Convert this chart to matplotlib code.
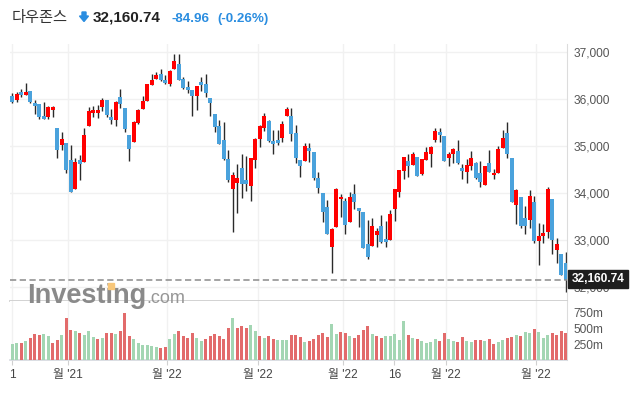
import matplotlib
matplotlib.use("Agg")
import matplotlib.pyplot as plt
from matplotlib.patches import Rectangle, Polygon
import numpy as np

plt.rcParams['font.family'] = ['Liberation Sans', 'Noto Sans CJK KR', 'DejaVu Sans']
plt.rcParams['lines.scale_dashes'] = False

# daily OHLC, 11 Nov 2021 .. 10 May 2022
opens = [36071, 35986, 36156, 36092, 36177, 35922, 35894, 35645, 35624, 35780,
         35390, 35028, 35064, 34709, 34092, 34709, 34660, 35440, 35709, 35709,
         35837, 35986, 35624, 35567, 36050, 35816, 35241, 35099, 35497, 35794,
         35972, 36312, 36440, 36539, 36411, 36333, 36652, 36752, 36433, 36262,
         36199, 36078, 36369, 36326, 36028, 35688, 35440, 35135, 34731, 34099,
         34213, 34539, 34284, 34163, 34716, 35163, 35397, 35539, 35113, 35135,
         35184, 35638, 35645, 35277, 34702, 34695, 34965, 34879, 34326, 34014,
         33709, 32851, 33291, 33872, 33844, 33397, 33979, 33688, 33610, 32915,
         32887, 33121, 33305, 33029, 33014, 33674, 34021, 34482, 34688, 34603,
         34773, 34411, 34709, 34844, 35142, 35298, 35220, 34759, 34830, 34901,
         34539, 34461, 34589, 34645, 34440, 34185, 34645, 34383, 34426, 34972,
         35284, 34752, 33759, 33922, 33475, 33440, 33816, 32993, 33099, 33185,
         33880, 32801, 32709, 32511]
highs = [36128, 36163, 36213, 36340, 36177, 35986, 35894, 35936, 35858, 35858,
         35390, 35298, 35064, 35028, 34759, 34816, 35383, 35844, 35858, 35872,
         36021, 35986, 35787, 35965, 36220, 35816, 35241, 35539, 35787, 36078,
         36326, 36546, 36589, 36645, 36518, 36624, 36957, 36957, 36482, 36397,
         36199, 36284, 36468, 36532, 36028, 35688, 35553, 35511, 34915, 34461,
         34617, 34837, 34794, 34744, 35170, 35454, 35702, 35553, 35340, 35340,
         35546, 35837, 35809, 35454, 34702, 35064, 35064, 34879, 34447, 34014,
         33858, 33270, 34106, 33986, 33894, 34021, 34192, 33688, 33610, 33433,
         33468, 33270, 33539, 33411, 33645, 34092, 34497, 34773, 34837, 34887,
         34773, 34738, 34979, 35014, 35383, 35383, 35220, 34887, 34957, 35135,
         34624, 34723, 34901, 34660, 34688, 34589, 34915, 34518, 35007, 35348,
         35511, 34752, 34092, 33922, 33724, 34064, 33936, 33362, 33355, 34135,
         33880, 33057, 32709, 32759]
lows = [35929, 35950, 36057, 36092, 35929, 35681, 35574, 35589, 35574, 35617,
        34759, 34915, 34440, 34036, 34092, 34291, 34660, 35440, 35631, 35596,
        35759, 35631, 35475, 35426, 35809, 35312, 34695, 35099, 35468, 35794,
        35972, 36312, 36426, 36397, 36333, 36277, 36652, 36418, 36220, 36128,
        35653, 35780, 36184, 36057, 35653, 35298, 35050, 34709, 34248, 33170,
        33575, 33894, 34050, 33837, 34532, 34993, 35326, 35099, 34830, 35021,
        35099, 35638, 35121, 34645, 34340, 34695, 34660, 34284, 33999, 33383,
        33128, 32298, 33291, 33489, 33135, 33397, 33667, 33277, 32830, 32596,
        32887, 32851, 32936, 32851, 33014, 33419, 33915, 34298, 34355, 34603,
        34376, 34390, 34709, 34567, 35092, 35092, 34695, 34574, 34638, 34624,
        34298, 34213, 34497, 34298, 34128, 34170, 34461, 34298, 34426, 34972,
        34745, 33809, 33341, 33255, 33128, 33270, 32936, 32468, 32936, 33043,
        32702, 32511, 32263, 31901]
closes = [35950, 36106, 36092, 36156, 35950, 35858, 35624, 35589, 35830, 35837,
          34922, 35156, 34497, 34036, 34660, 34617, 35241, 35752, 35773, 35773,
          35986, 35667, 35560, 35943, 35901, 35376, 34943, 35518, 35773, 35965,
          36326, 36411, 36518, 36418, 36355, 36603, 36816, 36418, 36248, 36206,
          36078, 36284, 36312, 36142, 35929, 35404, 35050, 34738, 34284, 34390,
          34319, 34192, 34192, 34744, 35156, 35433, 35645, 35113, 35057, 35078,
          35475, 35794, 35270, 34759, 34589, 35007, 34908, 34333, 34106, 33610,
          33128, 33248, 34092, 33929, 33319, 33929, 33823, 33631, 32844, 32653,
          33305, 33199, 32972, 32972, 33560, 34092, 34497, 34773, 34575, 34837,
          34376, 34723, 34879, 34986, 35326, 35248, 34695, 34837, 34943, 34652,
          34482, 34603, 34745, 34333, 34248, 34575, 34461, 34440, 34943, 35170,
          34830, 33823, 34064, 33305, 33305, 33943, 32993, 33092, 33156, 34092,
          33014, 32922, 32263, 32161]

# volume in millions, and bar colour flag (g = up day, r = down day)
volumes = [255, 271, 271, 302, 349, 411, 396, 411, 380, 271,
           318, 396, 661, 474, 458, 427, 396, 458, 365, 333,
           349, 427, 427, 411, 458, 740, 380, 333, 271, 240,
           240, 224, 208, 193, 208, 333, 411, 458, 380, 349,
           427, 349, 302, 333, 380, 411, 380, 333, 505, 661,
           505, 536, 505, 552, 458, 380, 349, 380, 333, 318,
           318, 318, 396, 396, 365, 286, 302, 333, 396, 427,
           365, 568, 411, 443, 427, 380, 349, 396, 474, 536,
           411, 380, 349, 380, 380, 411, 318, 615, 396, 349,
           333, 302, 271, 286, 333, 302, 427, 333, 302, 286,
           365, 302, 286, 318, 318, 302, 333, 255, 286, 318,
           349, 365, 396, 380, 443, 427, 490, 443, 349, 396,
           427, 396, 458, 427]
vol_dir = list("ggrgrrrggrrgrrgrgggrgrrgrrrggggggrrggrrrrggrrrrrrgrrrggrgrrgggrrrgrrr"
               "rrggrrgrrrrgrrgggggrgrggggrrggrrggrrgrrggrrgrggrgggrrrr")

price_ticks = [32000, 33000, 34000, 35000, 36000, 37000]
vol_ticks = [250, 500, 750]
date_pos = [0, 12.44, 34.4, 54.5, 73.4, 84.9, 96.3, 116.3]
date_labels = ['1', "월 '21", "월 '22", "월 '22", "월 '22", '16', "월 '22", "월 '22"]
last_price = 32160.74

W, H = 635, 393


def rect(l, t, r, b):
    return [l / W, 1 - b / H, (r - l) / W, (b - t) / H]


fig = plt.figure(figsize=(W / 100, H / 100), dpi=100)
ax = fig.add_axes(rect(10, 44, 567, 301))
axv = fig.add_axes(rect(10, 301, 567, 360), sharex=ax)

n = len(closes)
x = np.arange(n)
o = np.array(opens, float)
c = np.array(closes, float)
up = c >= o
body_col = np.where(up, '#ff0000', '#4aa2dc')

ax.vlines(x, lows, highs, color='#2a2a2a', lw=1.0, zorder=2)
ax.bar(x, np.maximum(np.abs(c - o), 12), bottom=np.minimum(o, c), width=0.8,
       color=body_col, linewidth=0, zorder=3)

ax.axhline(last_price, color='#8a8a8a', lw=1.1, dashes=(4.5, 2.5), zorder=4)

ax.set_xlim(-0.51, 123.27)
ax.set_ylim(31708, 37177)
ax.set_yticks(price_ticks)
ax.set_yticklabels([f'{v:,}' for v in price_ticks])
ax.yaxis.tick_right()
ax.tick_params(axis='y', length=0, pad=4.5, labelsize=8.6, labelcolor='#555555')
ax.tick_params(axis='x', length=0, labelbottom=False)
ax.set_xticks(date_pos)
ax.grid(True, color='#f1f1f1', lw=1.0, zorder=0)
for s in ['top', 'left']:
    ax.spines[s].set_visible(False)
ax.spines['right'].set_color('#dcdcdc')
ax.spines['bottom'].set_color('#cfcfcf')
ax.spines['bottom'].set_linewidth(1.3)

vcol = ['#a3d6b3' if d == 'g' else '#e26b6b' for d in vol_dir]
axv.bar(x, volumes, width=0.7, color=vcol, linewidth=0, zorder=3)
axv.set_ylim(0, 922)
axv.set_yticks(vol_ticks)
axv.set_yticklabels([f'{v}m' for v in vol_ticks])
axv.yaxis.tick_right()
axv.tick_params(axis='y', length=0, pad=4.5, labelsize=8.6, labelcolor='#555555')
axv.set_xticks(date_pos)
axv.set_xticklabels(date_labels)
axv.tick_params(axis='x', length=3.5, color='#d0d0d0', pad=3, labelsize=8.6,
                labelcolor='#444444')
axv.grid(True, axis='x', color='#f1f1f1', lw=1.0, zorder=0)
for s in ['top', 'left']:
    axv.spines[s].set_visible(False)
axv.spines['right'].set_color('#dcdcdc')
axv.spines['bottom'].set_color('#d4d8de')
axv.spines['bottom'].set_linewidth(1.2)

# last price tag on the right axis (covers the 32,000 label like the original)
fig.patches.append(Rectangle((568 / W, 1 - 288 / H), 60 / W, 18 / H,
                             transform=fig.transFigure, color='#1e1e1e', zorder=10))
fig.text(598 / W, 1 - 279.5 / H, f'{last_price:,.2f}', color='white', fontsize=8.6,
         weight='bold', ha='center', va='center', zorder=11)

# header
fig.text(12 / W, 1 - 22 / H, '다우존스', fontsize=11, color='#333333',
         family=['Noto Sans CJK KR'], va='baseline')
arrow = [(82, 12), (86, 12), (86, 16), (88.5, 16), (84, 21.5), (79.5, 16), (82, 16)]
fig.patches.append(Polygon([(px / W, 1 - py / H) for px, py in arrow],
                           transform=fig.transFigure, color='#2a8de0', zorder=10))
fig.text(93 / W, 1 - 22 / H, '32,160.74', fontsize=11, weight='bold', color='#222222',
         va='baseline')
fig.text(171 / W, 1 - 22 / H, '-84.96', fontsize=9.6, weight='bold', color='#2a8de0',
         va='baseline')
fig.text(217 / W, 1 - 22 / H, '(-0.26%)', fontsize=9.6, weight='bold', color='#2a8de0',
         va='baseline')

# watermark
fig.text(27 / W, 1 - 303 / H, 'Investing', fontsize=19.5, weight='bold', color='#8a8a8a',
         va='baseline', zorder=5)
fig.text(146 / W, 1 - 303 / H, '.com', fontsize=13, color='#969696', va='baseline', zorder=5)
fig.patches.append(Rectangle((107.5 / W, 1 - 289 / H), 6 / W, 6 / H,
                             transform=fig.transFigure, color='#f8c77a', zorder=12))

fig.savefig('out.png', dpi=100)
